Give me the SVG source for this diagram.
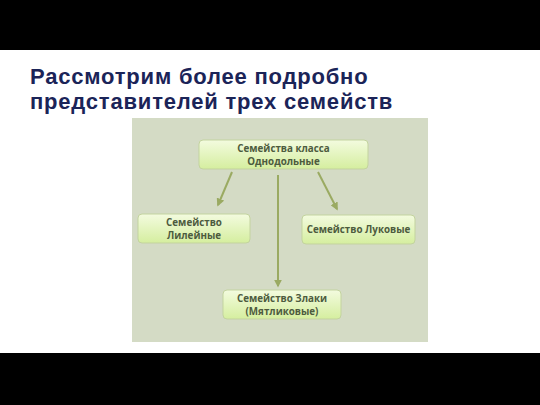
<svg xmlns="http://www.w3.org/2000/svg" width="540" height="405" viewBox="0 0 540 405">
<style>
.title{font-family:"Liberation Sans",Arial,sans-serif;font-weight:bold;font-size:22px;letter-spacing:0.8px;fill:#1b2458}
.nt{font-family:"Open Sans","Liberation Sans",sans-serif;font-weight:bold;font-size:9.8px;fill:#4d5b3e;text-anchor:middle}
.box{fill:url(#g);stroke:#c3d39f;stroke-width:1}
.con{stroke:#9aaa62;stroke-width:2;fill:none;marker-end:url(#ah)}
</style>
<defs>
<linearGradient id="g" x1="0" y1="0" x2="0" y2="1">
<stop offset="0" stop-color="#f3fbdf"/>
<stop offset="1" stop-color="#d5ee9f"/>
</linearGradient>
<marker id="ah" viewBox="0 0 10 10" refX="8" refY="5" markerWidth="4" markerHeight="4" orient="auto">
<path d="M0,0 L10,5 L0,10 z" fill="#9aaa62"/>
</marker>
</defs>
<rect x="0" y="0" width="540" height="405" fill="#ffffff"/>
<rect x="0" y="0" width="540" height="50" fill="#000000"/>
<rect x="0" y="353" width="540" height="52" fill="#000000"/>
<text class="title" x="30" y="84">Рассмотрим более подробно</text>
<text class="title" x="30" y="109">представителей трех семейств</text>
<rect x="132" y="118" width="296" height="224" fill="#d4dbc5"/>
<g id="connectors">
<line class="con" x1="232" y1="172" x2="218" y2="205"/>
<line class="con" x1="278" y1="175" x2="278" y2="286"/>
<line class="con" x1="318" y1="172" x2="337" y2="209"/>
</g>
<g id="top">
<rect class="box" x="199" y="140" width="169" height="29" rx="4"/>
<text class="nt" x="283.5" y="152">Семейства класса</text>
<text class="nt" x="283.5" y="165">Однодольные</text>
</g>
<g id="left">
<rect class="box" x="138" y="214" width="112" height="29" rx="4"/>
<text class="nt" x="194" y="226">Семейство</text>
<text class="nt" x="194" y="239">Лилейные</text>
</g>
<g id="right">
<rect class="box" x="302" y="215" width="113" height="29" rx="4"/>
<text class="nt" x="358.5" y="233">Семейство Луковые</text>
</g>
<g id="bottom">
<rect class="box" x="223" y="290" width="118" height="29" rx="4"/>
<text class="nt" x="282" y="302">Семейство Злаки</text>
<text class="nt" x="282" y="315">(Мятликовые)</text>
</g>
</svg>
